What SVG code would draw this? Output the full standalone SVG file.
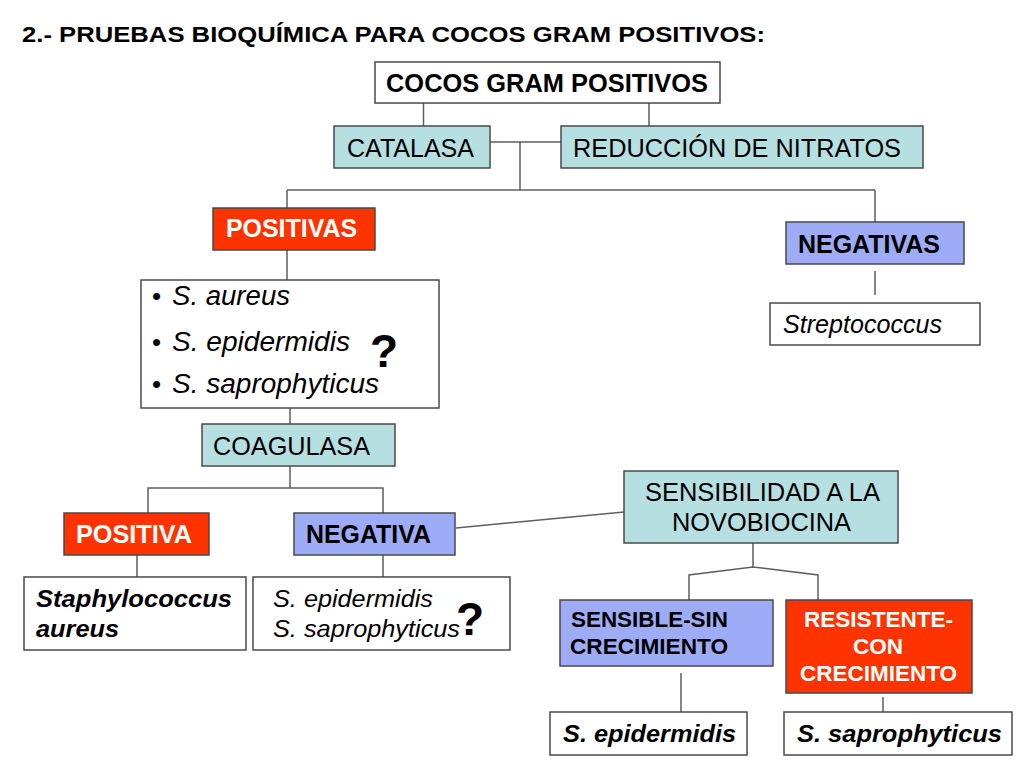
<svg xmlns="http://www.w3.org/2000/svg" width="1024" height="768" viewBox="0 0 1024 768">
<style>
.bx{stroke:#4a4a4a;stroke-width:1.5}
.w{fill:#ffffff}
.t{fill:#b6dfe1}
.r{fill:#ff3300}
.b{fill:#9eabf6}
text{font-family:"Liberation Sans",Arial,sans-serif;fill:#000}
.reg{font-size:25px}
.bd{font-size:25px;font-weight:bold}
.it{font-style:italic;font-size:25px}
.bi{font-style:italic;font-weight:bold;font-size:24px}
.wt{fill:#ffffff}
.q{font-size:46px;font-weight:bold}
.cn line,.cn polyline{stroke:#5e5e5e;stroke-width:1.5;fill:none}
</style>
<rect width="1024" height="768" fill="#ffffff"/>
<text x="22" y="42" style="font-size:22.5px;font-weight:bold" textLength="743" lengthAdjust="spacingAndGlyphs">2.- PRUEBAS BIOQUÍMICA PARA COCOS GRAM POSITIVOS:</text>

<g class="cn">
<line x1="423.5" y1="103" x2="423.5" y2="126"/>
<line x1="649" y1="103" x2="649" y2="126"/>
<line x1="490" y1="142" x2="561" y2="142"/>
<line x1="520" y1="142" x2="520" y2="190"/>
<line x1="287" y1="190" x2="875" y2="190"/>
<line x1="287" y1="190" x2="287" y2="208"/>
<line x1="875" y1="190" x2="875" y2="222"/>
<line x1="875" y1="271" x2="875" y2="295"/>
<line x1="287" y1="250" x2="287" y2="280"/>
<line x1="290" y1="408" x2="290" y2="424"/>
<line x1="290" y1="466" x2="290" y2="488"/>
<polyline points="148,513 148,488 383,488 383,513"/>
<line x1="137" y1="555" x2="137" y2="577"/>
<line x1="383" y1="555" x2="383" y2="577"/>
<line x1="456" y1="528" x2="624" y2="512"/>
<line x1="753" y1="543" x2="753" y2="567"/>
<polyline points="689,600 689,575 753,567 818,575 818,600"/>
<line x1="681" y1="673" x2="681" y2="712"/>
<line x1="883" y1="697" x2="883" y2="712"/>
</g>

<g id="cocos">
<rect class="bx w" x="375" y="62" width="345" height="41"/>
<text class="bd" x="386" y="92" textLength="322" lengthAdjust="spacingAndGlyphs">COCOS GRAM POSITIVOS</text>
</g>
<g id="catalasa">
<rect class="bx t" x="334" y="126" width="156" height="42"/>
<text class="reg" x="347" y="157" textLength="127" lengthAdjust="spacingAndGlyphs">CATALASA</text>
</g>
<g id="nitratos">
<rect class="bx t" x="561" y="126" width="362" height="42"/>
<text class="reg" x="573" y="157" textLength="328" lengthAdjust="spacingAndGlyphs">REDUCCIÓN DE NITRATOS</text>
</g>
<g id="positivas">
<rect class="bx r" x="213" y="208" width="162" height="42"/>
<text class="bd wt" x="226" y="237" textLength="131" lengthAdjust="spacingAndGlyphs">POSITIVAS</text>
</g>
<g id="negativas">
<rect class="bx b" x="786" y="222" width="178" height="42"/>
<text class="bd" x="798" y="253" textLength="142" lengthAdjust="spacingAndGlyphs">NEGATIVAS</text>
</g>
<g id="streptococcus">
<rect class="bx w" x="770" y="303" width="210" height="42"/>
<text class="it" x="783" y="333" textLength="159" lengthAdjust="spacingAndGlyphs">Streptococcus</text>
</g>
<g id="lista">
<rect class="bx w" x="141" y="280" width="298" height="128"/>
<text class="reg" x="152" y="305" style="font-size:26px">•</text>
<text class="it" x="172" y="305" style="font-size:27px" textLength="118" lengthAdjust="spacingAndGlyphs">S. aureus</text>
<text class="reg" x="152" y="351" style="font-size:26px">•</text>
<text class="it" x="172" y="351" style="font-size:27px" textLength="178" lengthAdjust="spacingAndGlyphs">S. epidermidis</text>
<text class="reg" x="152" y="393" style="font-size:26px">•</text>
<text class="it" x="172" y="393" style="font-size:27px" textLength="207" lengthAdjust="spacingAndGlyphs">S. saprophyticus</text>
<text class="q" x="370" y="367">?</text>
</g>
<g id="coagulasa">
<rect class="bx t" x="202" y="424" width="193" height="42"/>
<text class="reg" x="213" y="455" textLength="157" lengthAdjust="spacingAndGlyphs">COAGULASA</text>
</g>
<g id="positiva">
<rect class="bx r" x="64" y="513" width="145" height="42"/>
<text class="bd wt" x="76" y="543" textLength="116" lengthAdjust="spacingAndGlyphs">POSITIVA</text>
</g>
<g id="negativa">
<rect class="bx b" x="294" y="513" width="161" height="42"/>
<text class="bd" x="306" y="543" textLength="125" lengthAdjust="spacingAndGlyphs">NEGATIVA</text>
</g>
<g id="staph">
<rect class="bx w" x="24" y="577" width="222" height="73"/>
<text class="bi" x="36" y="607" textLength="196" lengthAdjust="spacingAndGlyphs">Staphylococcus</text>
<text class="bi" x="36" y="637" textLength="83" lengthAdjust="spacingAndGlyphs">aureus</text>
</g>
<g id="episapro">
<rect class="bx w" x="253" y="577" width="257" height="73"/>
<text class="it" x="273" y="607" style="font-size:24px" textLength="160" lengthAdjust="spacingAndGlyphs">S. epidermidis</text>
<text class="it" x="273" y="637" style="font-size:24px" textLength="187" lengthAdjust="spacingAndGlyphs">S. saprophyticus</text>
<text class="q" x="456" y="635">?</text>
</g>
<g id="novobiocina">
<rect class="bx t" x="624" y="471" width="274" height="72"/>
<text class="reg" x="645" y="501" textLength="235" lengthAdjust="spacingAndGlyphs">SENSIBILIDAD A LA</text>
<text class="reg" x="672" y="531" textLength="179" lengthAdjust="spacingAndGlyphs">NOVOBIOCINA</text>
</g>
<g id="sensible">
<rect class="bx b" x="560" y="600" width="213" height="66"/>
<text class="bd" x="571" y="627" style="font-size:21.5px" textLength="157" lengthAdjust="spacingAndGlyphs">SENSIBLE-SIN</text>
<text class="bd" x="570" y="654" style="font-size:21.5px" textLength="158" lengthAdjust="spacingAndGlyphs">CRECIMIENTO</text>
</g>
<g id="resistente">
<rect class="bx r" x="786" y="600" width="186" height="93"/>
<text class="bd wt" x="804" y="627" style="font-size:21.5px" textLength="149" lengthAdjust="spacingAndGlyphs">RESISTENTE-</text>
<text class="bd wt" x="853" y="654" style="font-size:21.5px" textLength="50" lengthAdjust="spacingAndGlyphs">CON</text>
<text class="bd wt" x="800" y="681" style="font-size:21.5px" textLength="157" lengthAdjust="spacingAndGlyphs">CRECIMIENTO</text>
</g>
<g id="epidermidis">
<rect class="bx w" x="550" y="712" width="197" height="43"/>
<text class="bi" x="563" y="742" textLength="173" lengthAdjust="spacingAndGlyphs">S. epidermidis</text>
</g>
<g id="saprophyticus">
<rect class="bx w" x="784" y="712" width="228" height="43"/>
<text class="bi" x="797" y="742" textLength="205" lengthAdjust="spacingAndGlyphs">S. saprophyticus</text>
</g>
</svg>
